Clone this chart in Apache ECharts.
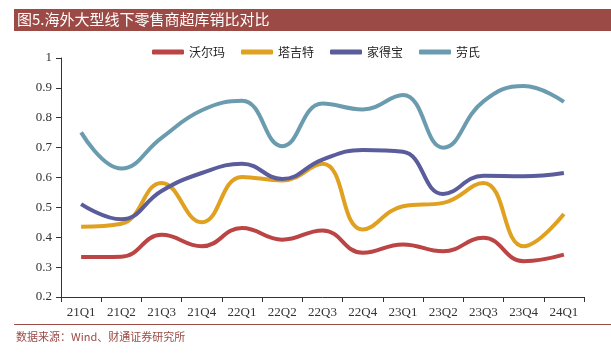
<!DOCTYPE html>
<html>
<head>
<meta charset="utf-8">
<script src="https://cdn.jsdelivr.net/npm/echarts@6/dist/echarts.min.js"></script>
<style>
  html, body { margin: 0; padding: 0; background: #fff; }
  #chart { width: 611px; height: 354px; }
</style>
</head>
<body>
<div id="chart"></div>
<script>
const quarters = ["21Q1", "21Q2", "21Q3", "21Q4", "22Q1", "22Q2", "22Q3", "22Q4", "23Q1", "23Q2", "23Q3", "23Q4", "24Q1"];
const walmart = [0.334, 0.335, 0.408, 0.37, 0.431, 0.392, 0.423, 0.348, 0.376, 0.353, 0.398, 0.32, 0.342];
const target = [0.435, 0.445, 0.582, 0.45, 0.602, 0.59, 0.646, 0.426, 0.504, 0.515, 0.582, 0.37, 0.478];
const homeDepot = [0.511, 0.46, 0.555, 0.615, 0.646, 0.595, 0.66, 0.692, 0.686, 0.545, 0.606, 0.604, 0.615];
const lowes = [0.751, 0.63, 0.733, 0.825, 0.857, 0.705, 0.848, 0.828, 0.876, 0.70, 0.855, 0.906, 0.853];
const seriesNames = ["沃尔玛", "塔吉特", "家得宝", "劳氏"];
const yTicks = [0.2, 0.3, 0.4, 0.5, 0.6, 0.7, 0.8, 0.9, 1];

const colors = ["#bb4444", "#e0a020", "#5a5c9c", "#6a9bae"];
const brown = "#9c4a45";

const chart = echarts.init(document.getElementById("chart"));

const mkLine = (name, data, color) => ({
  name,
  type: "line",
  data,
  smooth: 0.45,
  symbol: "none",
  lineStyle: { width: 4, color },
  itemStyle: { color },
});

chart.setOption({
  animation: false,
  grid: { left: 61, right: 27, top: 58, bottom: 57 },
  graphic: [
    { type: "rect", left: 14, top: 9, shape: { width: 597, height: 22 }, style: { fill: brown } },
    {
      type: "text", left: 17, top: 12,
      style: { text: "图5.海外大型线下零售商超库销比对比", fill: "#fff", font: "15px 'Noto Sans CJK SC'" },
    },
    { type: "rect", left: 14, top: 324, shape: { width: 597, height: 1 }, style: { fill: brown } },
    {
      type: "text", left: 16, top: 331,
      style: { text: "数据来源：Wind、财通证券研究所", fill: brown, font: "11px 'Noto Sans CJK SC'" },
    },
  ],
  legend: {
    left: 152,
    top: 46,
    padding: 0,
    itemWidth: 32,
    itemHeight: 5,
    itemGap: 16,
    icon: "roundRect",
    data: seriesNames,
    textStyle: { fontSize: 12, color: "#222", fontFamily: "Noto Sans CJK SC" },
  },
  xAxis: {
    type: "category",
    data: quarters,
    boundaryGap: true,
    axisLine: { lineStyle: { color: "#333", width: 1 } },
    axisTick: { show: true, length: 5, lineStyle: { color: "#333" } },
    axisLabel: { color: "#333", fontSize: 13, fontFamily: "Liberation Serif", margin: 9 },
  },
  yAxis: {
    type: "value",
    min: 0.2,
    max: 1,
    interval: 0.1,
    splitLine: { show: false },
    axisLine: { show: true, lineStyle: { color: "#333", width: 1 } },
    axisTick: { show: true, length: 5, lineStyle: { color: "#333" } },
    axisLabel: {
      color: "#333", fontSize: 13, fontFamily: "Liberation Serif", margin: 9,
      formatter: (v) => {
        const t = yTicks.find((k) => Math.abs(k - v) < 1e-6);
        return t === undefined ? "" : String(t);
      },
    },
  },
  series: [
    mkLine(seriesNames[0], walmart, colors[0]),
    mkLine(seriesNames[1], target, colors[1]),
    mkLine(seriesNames[2], homeDepot, colors[2]),
    mkLine(seriesNames[3], lowes, colors[3]),
  ],
});
</script>
</body>
</html>
